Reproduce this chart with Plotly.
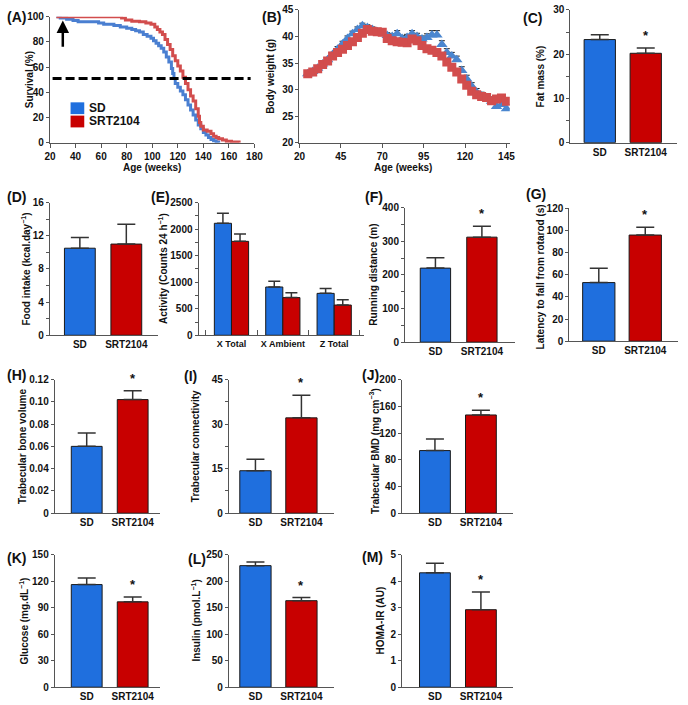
import plotly.graph_objects as go

W, H = 688, 705
FONT = "Liberation Sans, Arial, sans-serif"
BLUE, RED = "#1f6fde", "#c80000"
CURVE_BLUE, CURVE_RED = "#4a7fd1", "#d24d4d"
AXC = "#555555"
TXT = "#111111"

GROUPS = ["SD", "SRT2104"]

# ---------------- (A) survival ----------------
sd_age = [25, 28, 33, 38, 42, 58, 62, 70, 75, 80, 84, 87, 90, 93, 96, 99, 101, 103, 105, 107,
          109, 111, 113, 115, 116, 117, 118, 120, 122, 124, 126, 128, 130, 132, 134, 136, 138,
          140, 142, 144, 146, 148, 150, 152]
sd_survival = [100, 99, 98, 97, 96, 95, 94, 93, 92, 91, 90, 89, 88, 86, 84.5, 83, 81, 79, 77, 75,
               72, 68, 64, 59, 55, 51, 47, 44, 41, 38, 34, 30, 26, 22, 18, 14, 11,
               8, 6, 4, 2.5, 1.5, 0.5, 0]
srt_age = [25, 73, 76, 79, 84, 90, 95, 99, 102, 104, 106, 108, 110, 112, 114, 116, 118, 120, 122,
           124, 126, 128, 130, 132, 134, 136, 137, 138, 140, 143, 146, 148, 150, 152, 155, 158, 162, 168]
srt_survival = [100, 100, 99, 97.5, 96.5, 96, 95, 94, 92, 90, 88, 86, 82, 78, 74, 69, 65, 61, 57,
                52, 47, 42, 37, 33, 27, 21, 16, 13, 10, 9, 7, 5, 4, 3, 2, 1, 0.5, 0]
median_level = 51
arrow_age = 30

# ---------------- (B) body weight ----------------
bw_age = [25, 28, 31, 34, 37, 40, 43, 46, 49, 52, 55, 58, 61, 64, 67, 70, 73, 76, 79, 82, 85,
          88, 91, 94, 97, 100, 103, 106, 109, 112, 115, 118, 121, 124, 127, 130, 133, 136, 139, 142, 145]
bw_sd = [33.0, 33.4, 34.0, 34.8, 35.6, 36.6, 37.6, 38.6, 39.6, 40.5, 41.3, 42.0, 41.7, 41.3, 40.9,
         40.6, 40.2, 40.0, 40.5, 39.6, 39.8, 40.5, 40.0, 39.5, 39.8, 40.3, 40.3, 38.5, 37.0, 36.3,
         35.6, 33.6, 32.0, 30.6, 29.5, 28.8, 28.3, 27.8, 26.8, 27.2, 26.4]
bw_sd_sem = [0.4, 0.4, 0.4, 0.4, 0.4, 0.4, 0.5, 0.5, 0.5, 0.5, 0.5, 0.5, 0.5, 0.5, 0.5,
             0.5, 0.5, 0.5, 0.6, 0.6, 0.6, 0.6, 0.6, 0.6, 0.7, 0.8, 0.8, 0.7, 0.7, 0.7,
             0.7, 0.7, 0.7, 0.7, 0.7, 0.7, 0.7, 0.8, 0.8, 0.8, 0.8]
bw_srt = [33.0, 33.3, 33.9, 34.7, 35.4, 36.3, 37.0, 37.6, 38.3, 39.0, 39.8, 40.6, 41.3, 41.0, 40.9,
          40.8, 39.6, 39.2, 39.0, 38.9, 38.8, 39.5, 39.2, 38.3, 37.7, 37.4, 37.0, 36.3, 35.2, 34.2,
          33.3, 32.0, 30.8, 29.7, 29.0, 28.7, 28.5, 27.9, 28.2, 28.4, 27.8]

# ---------------- bar panels (mean, SEM) ----------------
fat_mass = [23.3, 20.2]; fat_mass_sem = [1.1, 1.2]
food_intake = [10.5, 11.0]; food_intake_sem = [1.3, 2.4]
activity_cats = ["X Total", "X Ambient", "Z Total"]
activity_sd = [2110, 910, 790]; activity_sd_sem = [190, 110, 90]
activity_srt = [1770, 710, 570]; activity_srt_sem = [140, 90, 100]
running = [220, 312]; running_sem = [31, 32]
latency = [53, 96]; latency_sem = [13, 7]
bone_volume = [0.060, 0.102]; bone_volume_sem = [0.012, 0.008]
connectivity = [14.3, 32.1]; connectivity_sem = [3.9, 7.6]
bmd = [93.7, 147]; bmd_sem = [17.5, 7]
glucose = [116, 96.5]; glucose_sem = [7.5, 5.5]
insulin = [229, 163]; insulin_sem = [7, 6]
homa = [4.31, 2.92]; homa_sem = [0.36, 0.67]

fig = go.Figure()
layout = dict(width=W, height=H, margin=dict(l=0, r=0, t=0, b=0),
              paper_bgcolor="white", plot_bgcolor="white", showlegend=False,
              font=dict(family=FONT, size=10, color=TXT))
annotations = []
shapes = []


def xd(a, b):
    return [a / W, b / W]


def yd(top, bottom):
    return [1 - bottom / H, 1 - top / H]


def names(n):
    if n == 1:
        return "x", "y", "xaxis", "yaxis"
    return f"x{n}", f"y{n}", f"xaxis{n}", f"yaxis{n}"


def common(size=10):
    return dict(showline=True, linecolor=AXC, linewidth=1.3, showgrid=False, zeroline=False,
                tickfont=dict(family=FONT, size=size, weight="bold", color=TXT),
                tickcolor=AXC, tickwidth=1.2)


def ytitle(text, xc, yc):
    annotations.append(dict(text=text, xref="paper", yref="paper", x=xc / W,
                            y=1 - yc / H, textangle=-90, showarrow=False,
                            xanchor="center", yanchor="middle",
                            font=dict(family=FONT, size=10, weight="bold", color=TXT)))


def letter(text, x, yc):
    annotations.append(dict(text=text, xref="paper", yref="paper", x=x / W, y=1 - yc / H,
                            showarrow=False, xanchor="left", yanchor="middle",
                            font=dict(family=FONT, size=14, weight="bold", color=TXT)))


def yaxis_dict(xa, top, bottom, yrange, dtick, minor_dtick=None, tickvals=None, ticktext=None):
    d = dict(common(), domain=yd(top, bottom), anchor=xa, range=yrange, ticks="outside",
             ticklen=3, tick0=0, dtick=dtick)
    if minor_dtick:
        d["minor"] = dict(ticks="outside", ticklen=3, dtick=minor_dtick, tick0=0,
                          tickcolor=AXC, tickwidth=1.2, showgrid=False)
    if tickvals is not None:
        d["tickvals"] = tickvals
        d["ticktext"] = ticktext
        d.pop("dtick")
    return d


def bar_panel(n, vals, sems, x0, x1, top, bottom, c1, c2, bw, yrange, dtick, minor_dtick,
              title, title_x, title_y=None, star=True, tickvals=None, ticktext=None):
    xa, ya, xk, yk = names(n)
    unit = c2 - c1
    fig.add_trace(go.Bar(
        x=GROUPS, y=vals, width=bw / unit, xaxis=xa, yaxis=ya,
        marker=dict(color=[BLUE, RED], line=dict(color="#1a1a1a", width=1)),
        error_y=dict(type="data", array=sems, arrayminus=[0, 0], symmetric=False,
                     color="#333333", thickness=1.5, width=9)))
    layout[xk] = dict(common(), domain=xd(x0, x1), anchor=ya, type="category",
                      categoryorder="array", categoryarray=GROUPS,
                      range=[(x0 - c1) / unit, (x1 - c1) / unit], ticks="", tickangle=0)
    layout[yk] = yaxis_dict(xa, top, bottom, yrange, dtick, minor_dtick, tickvals, ticktext)
    ytitle(title, title_x, title_y if title_y is not None else (top + bottom) / 2)
    if star:
        annotations.append(dict(text="*", xref=xa, yref=ya, x=GROUPS[1], y=vals[1] + sems[1],
                                yshift=3, showarrow=False, yanchor="bottom",
                                font=dict(family=FONT, size=13, weight="bold", color=TXT)))


# ---------------- (A) ----------------
xa, ya, xk, yk = names(1)
fig.add_trace(go.Scatter(x=sd_age, y=sd_survival, mode="lines", line=dict(color=CURVE_BLUE, width=3, shape="hv"),
                         xaxis=xa, yaxis=ya, cliponaxis=False))
fig.add_trace(go.Scatter(x=srt_age, y=srt_survival, mode="lines", line=dict(color=CURVE_RED, width=3, shape="hv"),
                         xaxis=xa, yaxis=ya, cliponaxis=False))
layout[xk] = dict(common(), domain=xd(45, 254), anchor=ya, range=[20, 180], dtick=20, tick0=20,
                  ticks="outside", ticklen=4)
layout[yk] = yaxis_dict(xa, 11, 139, [0, 100], 20)
shapes.append(dict(type="line", xref=xa, yref=ya, x0=22, x1=177, y0=median_level, y1=median_level,
                   line=dict(color="black", width=3, dash="9px,4px")))
annotations.append(dict(x=arrow_age, y=97, ax=arrow_age, ay=75, xref=xa, yref=ya, axref=xa, ayref=ya,
                        showarrow=True, arrowhead=2, arrowsize=1, arrowwidth=2.5, arrowcolor="black", text=""))
ytitle("Survival (%)", 24, 75)
annotations.append(dict(text="Age (weeks)", xref="paper", yref="paper", x=(45 + 254) / 2 / W, y=1 - 164 / H,
                        showarrow=False, xanchor="center", yanchor="middle",
                        font=dict(family=FONT, size=10, weight="bold", color=TXT)))
# legend
for i, (col, lab) in enumerate([(BLUE, "SD"), (RED, "SRT2104")]):
    t = 98 + i * 13.5
    shapes.append(dict(type="rect", xref="paper", yref="paper", x0=66 / W, x1=80 / W,
                       y0=1 - (t + 12) / H, y1=1 - t / H, fillcolor=col, line=dict(width=0)))
    annotations.append(dict(text=lab, xref="paper", yref="paper", x=83 / W, y=1 - (t + 6) / H,
                            showarrow=False, xanchor="left", yanchor="middle",
                            font=dict(family=FONT, size=12, weight="bold", color=TXT)))
letter("(A)", -1, 11)

# ---------------- (B) ----------------
xa, ya, xk, yk = names(2)
fig.add_trace(go.Scatter(x=bw_age, y=bw_sd, mode="markers", xaxis=xa, yaxis=ya,
                         marker=dict(symbol="triangle-up", size=10, color="#4a86cf"),
                         error_y=dict(type="data", array=bw_sd_sem, arrayminus=[0] * len(bw_sd_sem),
                                      symmetric=False, color="#222222", thickness=1, width=3)))
fig.add_trace(go.Scatter(x=bw_age, y=bw_srt, mode="markers", xaxis=xa, yaxis=ya,
                         marker=dict(symbol="square", size=9, color="#d24d4d")))
layout[xk] = dict(common(), domain=xd(300, 515), anchor=ya, range=[20, 147], dtick=25, tick0=20,
                  ticks="outside", ticklen=4)
layout[yk] = yaxis_dict(xa, 4, 139, [20, 45], 5)
ytitle("Body weight (g)", 271, 72)
annotations.append(dict(text="Age (weeks)", xref="paper", yref="paper", x=(300 + 512) / 2 / W, y=1 - 164 / H,
                        showarrow=False, xanchor="center", yanchor="middle",
                        font=dict(family=FONT, size=10, weight="bold", color=TXT)))
letter("(B)", 260, 11)

# ---------------- (C) ----------------
bar_panel(3, fat_mass, fat_mass_sem, 577, 686, 4, 139, 607, 654, 32, [0, 30], 10, 5,
          "Fat mass (%)", 546)
letter("(C)", 526, 12)

# ---------------- (D) ----------------
bar_panel(4, food_intake, food_intake_sem, 45, 155, 200, 335, 75.5, 123, 31.5, [0, 16], 4, 2,
          "Food intake (kcal.day<sup>−1</sup>)", 20, star=False)
letter("(D)", -1, 194)

# ---------------- (E) ----------------
xa, ya, xk, yk = names(5)
e_unit = 52.5
e_bw = 17.5 / e_unit
fig.add_trace(go.Bar(x=activity_cats, y=activity_sd, width=e_bw, offset=-e_bw, xaxis=xa, yaxis=ya,
                     marker=dict(color=BLUE, line=dict(color="#1a1a1a", width=1)),
                     error_y=dict(type="data", array=activity_sd_sem, arrayminus=[0, 0, 0], symmetric=False,
                                  color="#333333", thickness=1.5, width=6)))
fig.add_trace(go.Bar(x=activity_cats, y=activity_srt, width=e_bw, offset=0, xaxis=xa, yaxis=ya,
                     marker=dict(color=RED, line=dict(color="#1a1a1a", width=1)),
                     error_y=dict(type="data", array=activity_srt_sem, arrayminus=[0, 0, 0], symmetric=False,
                                  color="#333333", thickness=1.5, width=6)))
layout[xk] = dict(common(9), domain=xd(197, 366), anchor=ya, type="category",
                  categoryorder="array", categoryarray=activity_cats,
                  range=[(197 - 230.5) / e_unit, (366 - 230.5) / e_unit],
                  ticks="inside", ticklen=5, tickson="boundaries", tickangle=0)
layout[yk] = yaxis_dict(xa, 200, 335, [0, 2500], 500, 250)
ytitle("Activity (Counts 24 h<sup>−1</sup>)", 161, 267)
letter("(E)", 146, 194)

# ---------------- (F) ----------------
bar_panel(6, running, running_sem, 408, 520, 205, 342, 439, 486.5, 31, [0, 400], 100, 50,
          "Running distance (m)", 376)
letter("(F)", 365, 194)

# ---------------- (G) ----------------
bar_panel(7, latency, latency_sem, 576, 687, 206, 341, 606, 653.5, 33, [0, 120], 20, None,
          "Latency to fall from rotarod (s)", 546, title_y=276)
letter("(G)", 530, 191)

# ---------------- (H) ----------------
bar_panel(8, bone_volume, bone_volume_sem, 50, 157, 380, 516, 82.5, 129.5, 31.5, [0, 0.12], 0.02, None,
          "Trabecular bone volume", 17,
          tickvals=[0, 0.02, 0.04, 0.06, 0.08, 0.10, 0.12],
          ticktext=["0", "0.02", "0.04", "0.06", "0.08", "0.10", "0.12"])
letter("(H)", -1, 375)

# ---------------- (I) ----------------
bar_panel(9, connectivity, connectivity_sem, 228, 335, 380, 516, 255, 302, 32, [0, 45], 15, 7.5,
          "Trabecular connectivity", 194)
letter("(I)", 180, 376)

# ---------------- (J) ----------------
bar_panel(10, bmd, bmd_sem, 405, 518, 380, 516, 438.5, 485.5, 31.5, [0, 200], 40, None,
          "Trabecular BMD (mg cm<sup>−3</sup>)", 377, title_y=453)
letter("(J)", 362, 375)

# ---------------- (K) ----------------
bar_panel(11, glucose, glucose_sem, 50, 157, 558, 693, 82.5, 129.5, 31.5, [0, 150], 30, None,
          "Glucose (mg.dL<sup>−1</sup>)", 18)
letter("(K)", -1, 562)

# ---------------- (L) ----------------
bar_panel(12, insulin, insulin_sem, 228, 335, 558, 693, 255, 302, 32, [0, 250], 50, None,
          "Insulin (pmol.L<sup>−1</sup>)", 194)
letter("(L)", 184, 563)

# ---------------- (M) ----------------
bar_panel(13, homa, homa_sem, 405, 518, 558, 693, 438.5, 485.5, 31.5, [0, 5], 1, None,
          "HOMA-IR (AU)", 383)
letter("(M)", 362, 561)

layout["annotations"] = annotations
layout["shapes"] = shapes
fig.update_layout(**layout)
fig.write_html("out.html")
